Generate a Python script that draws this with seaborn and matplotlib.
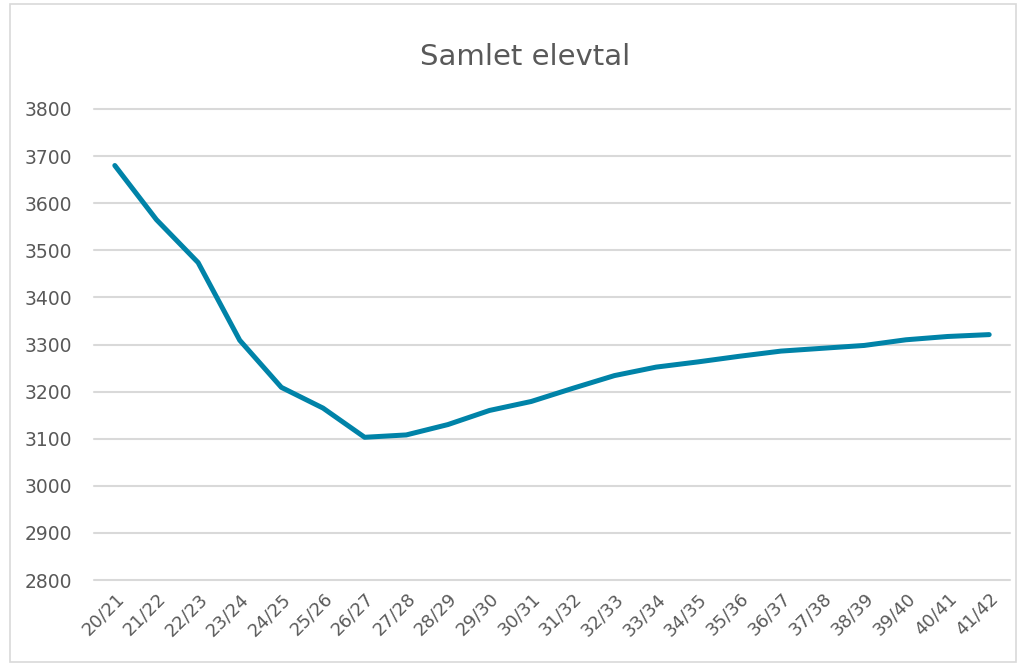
import matplotlib
matplotlib.use("Agg")
import matplotlib.pyplot as plt
import seaborn as sns
import pandas as pd
from matplotlib.patches import Rectangle

years = ["20/21", "21/22", "22/23", "23/24", "24/25", "25/26", "26/27", "27/28",
         "28/29", "29/30", "30/31", "31/32", "32/33", "33/34", "34/35", "35/36",
         "36/37", "37/38", "38/39", "39/40", "40/41", "41/42"]
elevtal = [3680, 3565, 3474, 3309, 3209, 3165, 3103, 3108, 3130, 3160, 3179,
           3207, 3234, 3252, 3263, 3275, 3286, 3292, 3298, 3310, 3317, 3321]
yticks = [2800, 2900, 3000, 3100, 3200, 3300, 3400, 3500, 3600, 3700, 3800]
title = "Samlet elevtal"

sns.set_theme(style="white")
plt.rcParams['font.family'] = ['DejaVu Sans']

text_color = "#595959"
grid_color = "#d9d9d9"
line_color = "#0083a8"

df = pd.DataFrame({"year": years, "elevtal": elevtal, "x": range(len(years))})

fig = plt.figure(figsize=(10.25, 6.66), dpi=100)
ax = fig.add_axes([94 / 1025, 1 - 580 / 666, (1010 - 94) / 1025, (580 - 109) / 666])

sns.lineplot(data=df, x="x", y="elevtal", ax=ax, color=line_color, linewidth=3.6,
             solid_capstyle="round", solid_joinstyle="round", zorder=3)

ax.set_xlim(-0.5, len(years) - 0.5)
ax.set_ylim(yticks[0], yticks[-1])
ax.set_yticks(yticks)
ax.set_yticklabels([str(v) for v in yticks], color=text_color, fontsize=13.5)
ax.set_xticks(range(len(years)))
ax.set_xticklabels(years, rotation=45, ha="right", rotation_mode="anchor",
                   color=text_color, fontsize=13)
ax.tick_params(axis="x", length=0, pad=7)
ax.tick_params(axis="y", length=0, pad=16)
ax.yaxis.grid(True, color=grid_color, linewidth=1.5)
for gl in ax.get_ygridlines():
    gl.set_clip_on(False)
ax.xaxis.grid(False)
for s in ax.spines.values():
    s.set_visible(False)
ax.set_xlabel("")
ax.set_ylabel("")

fig.text(525 / 1025, 1 - 57 / 666, title, ha="center", va="center",
         fontsize=21, color=text_color)

fig.patches.append(Rectangle((10 / 1025, 4 / 666), 1006 / 1025, 658 / 666,
                             transform=fig.transFigure, fill=False,
                             edgecolor=grid_color, linewidth=1.2))

fig.savefig("out.png", dpi=100)
